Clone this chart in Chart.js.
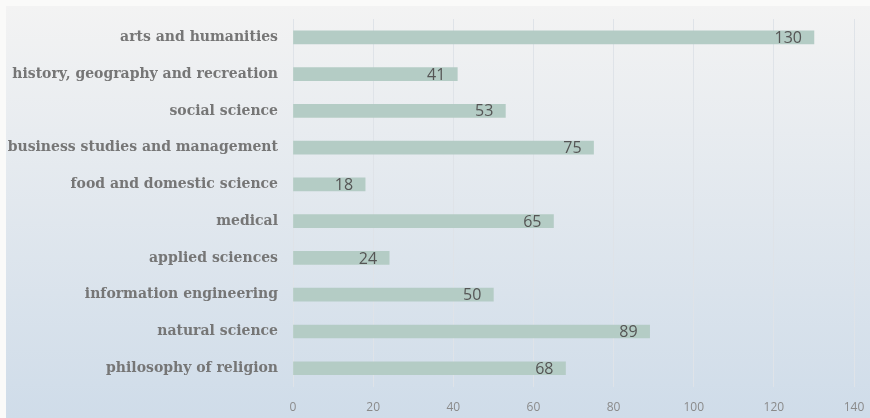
<!DOCTYPE html>
<html>
<head>
<meta charset="utf-8">
<script src="https://cdn.jsdelivr.net/npm/chart.js@4"></script>
<style>
  html, body { margin: 0; padding: 0; background: #fafaf9; }
  #wrap { width: 870px; height: 418px; position: relative; }
</style>
</head>
<body>
<div id="wrap"><canvas id="chart"></canvas></div>
<script>
"use strict"

const categories = [
    "arts and humanities",
    "history, geography and recreation",
    "social science",
    "business studies and management",
    "food and domestic science",
    "medical",
    "applied sciences",
    "information engineering",
    "natural science",
    "philosophy of religion"
];
const counts = [130, 41, 53, 75, 18, 65, 24, 50, 89, 68];
const xTicks = [0, 20, 40, 60, 80, 100, 120, 140];

// panel background, light grey at the top to pale blue at the bottom
const panelBg = {
    id: "panelBg",
    beforeDraw(chart) {
        let ctx = chart.ctx;
        let g = ctx.createLinearGradient(0, 6, 0, 418);
        g.addColorStop(0, "#f3f3f3");
        g.addColorStop(1, "#cfdce9");
        ctx.save();
        ctx.fillStyle = g;
        ctx.fillRect(6, 6, 864, 412);
        ctx.restore();
    }
};

// value labels at the inside end of each bar
const valueLabels = {
    id: "valueLabels",
    afterDatasetsDraw(chart) {
        let ctx = chart.ctx;
        let meta = chart.getDatasetMeta(0);
        ctx.save();
        ctx.font = "16px 'Open Sans'";
        ctx.fillStyle = "#555555";
        ctx.textAlign = "right";
        ctx.textBaseline = "middle";
        meta.data.forEach((bar, i) => {
            ctx.fillText(counts[i], bar.x - 12, bar.y + 1);
        });
        ctx.restore();
    }
};

new Chart(document.getElementById("chart"), {
    type: "bar",
    data: {
        labels: categories,
        datasets: [{
            data: counts,
            backgroundColor: "#b4ccc5",
            borderWidth: 0,
            barThickness: 13
        }]
    },
    options: {
        indexAxis: "y",
        responsive: true,
        maintainAspectRatio: false,
        animation: false,
        layout: { padding: { top: 19, right: 16, bottom: -11, left: 0 } },
        plugins: {
            legend: { display: false },
            tooltip: { enabled: false }
        },
        scales: {
            x: {
                min: 0,
                max: 140,
                afterBuildTicks(scale) {
                    scale.ticks = xTicks.map(v => ({ value: v }));
                },
                afterFit(scale) {
                    scale.paddingRight = 0;
                    scale.paddingLeft = 0;
                },
                grid: { color: "#dfe3e8", drawTicks: false },
                border: { display: false },
                ticks: {
                    color: "#8a8a8a",
                    font: { family: "'Open Sans'", size: 12 },
                    padding: 14
                }
            },
            y: {
                afterFit(scale) {
                    scale.width = 293;
                    scale.paddingTop = 0;
                    scale.paddingBottom = 0;
                },
                grid: { display: false, drawTicks: false },
                border: { display: true, color: "#dfe3e8" },
                ticks: {
                    color: "#767676",
                    font: { family: "'DejaVu Serif'", size: 14, weight: "bold" },
                    padding: 15
                }
            }
        }
    },
    plugins: [panelBg, valueLabels]
});
</script>
</body>
</html>
